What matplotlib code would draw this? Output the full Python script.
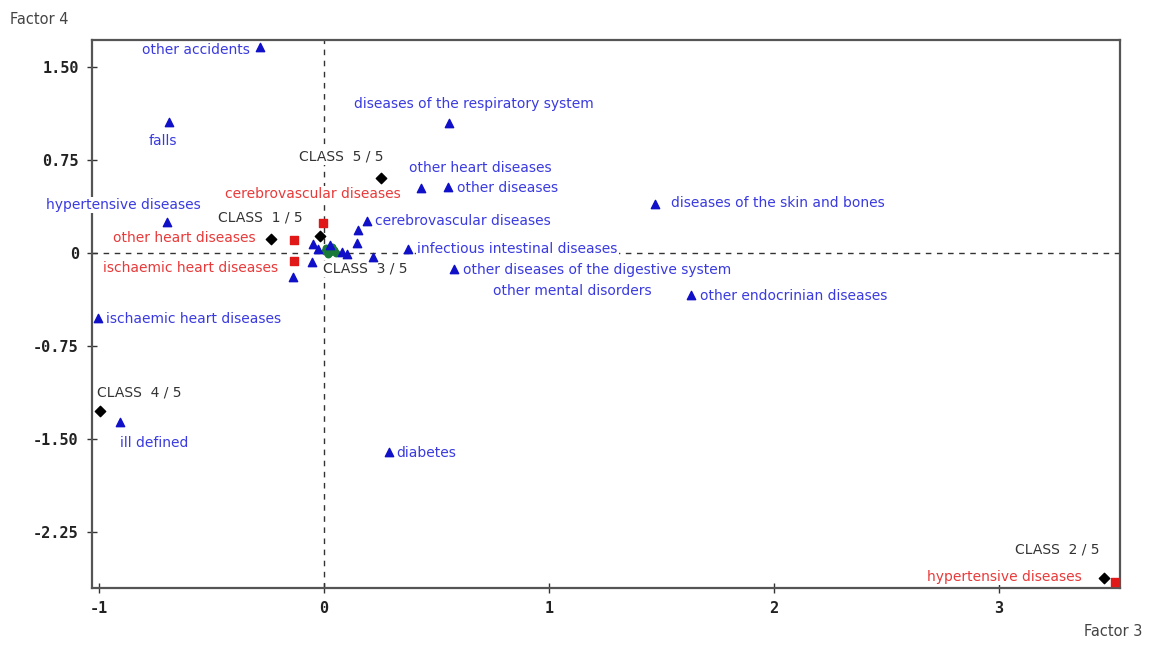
import matplotlib
matplotlib.use("Agg")
import matplotlib.pyplot as plt

# supplementary variables (blue triangles) with labels
blue_names = ['other accidents', 'falls', 'diseases of the respiratory system',
              'other heart diseases', 'other diseases', 'diseases of the skin and bones',
              'hypertensive diseases', 'cerebrovascular diseases',
              'infectious intestinal diseases', 'other diseases of the digestive system',
              'other mental disorders', 'other endocrinian diseases',
              'ischaemic heart diseases', 'ill defined', 'diabetes']
blue_x = [-0.284, -0.689, 0.556, 0.431, 0.551, 1.471, -0.698, 0.191,
          0.373, 0.578, 0.218, 1.631, -1.004, -0.907, 0.289]
blue_y = [1.661, 1.056, 1.048, 0.524, 0.532, 0.395, 0.250, 0.258,
          0.032, -0.129, -0.032, -0.339, -0.524, -1.363, -1.605]

# unlabeled blue triangles in the central cluster
cluster_x = [0.151, 0.147, -0.049, -0.027, 0.080, 0.102, -0.053, -0.138, 0.027]
cluster_y = [0.185, 0.081, 0.073, 0.032, 0.008, -0.008, -0.073, -0.194, 0.065]

# active categories (red squares)
red_names = ['cerebrovascular diseases', 'other heart diseases',
             'ischaemic heart diseases', 'hypertensive diseases']
red_x = [-0.004, -0.133, -0.133, 3.516]
red_y = [0.242, 0.105, -0.065, -2.653]

# class centres (black diamonds)
class_names = ['CLASS  1 / 5', 'CLASS  2 / 5', 'CLASS  3 / 5', 'CLASS  4 / 5', 'CLASS  5 / 5']
class_x = [-0.236, 3.467, -0.018, -0.996, 0.253]
class_y = [0.113, -2.621, 0.137, -1.274, 0.605]

# individuals (green dots)
green_x = [0.009, 0.027, 0.044, 0.018, 0.036, 0.053, 0.004]
green_y = [0.040, 0.008, 0.024, -0.008, 0.048, 0.000, 0.016]

xticks = [-1, 0, 1, 2, 3]
yticks = [1.50, 0.75, 0, -0.75, -1.50, -2.25]
ytick_labels = ['1.50', '0.75', '0', '-0.75', '-1.50', '-2.25']

# label offsets in pixels (dx, dy-up, ha)
blue_off = [(-10, -3, 'right'), (-6, -19, 'center'), (25, 19, 'center'),
            (59, 20, 'center'), (9, -1, 'left'), (16, 1, 'left'),
            (-44, 17, 'center'), (8, 0, 'left'), (9, 0, 'left'), (9, -1, 'left'),
            (199, -34, 'center'), (9, -1, 'left'), (8, -1, 'left'),
            (34, -21, 'center'), (7, -1, 'left')]
red_off = [(-10, 29, 'center'), (-38, 2, 'right'), (-16, -7, 'right'), (-33, 5, 'right')]
class_off = [(-11, 21, 'center'), (-47, 28, 'center'), (3, -33, 'left'),
             (-3, 18, 'left'), (-40, 21, 'center')]

fig = plt.figure(figsize=(11.5, 6.46), dpi=100)
ax = fig.add_axes([0.080, 0.090, 0.894, 0.848])
ax.set_xlim(-1.031, 3.538)
ax.set_ylim(-2.702, 1.718)

ax.axhline(0, color='#333333', ls=(0, (4, 4)), lw=1, zorder=1)
ax.axvline(0, color='#333333', ls=(0, (4, 4)), lw=1, zorder=1)

ax.scatter(green_x, green_y, marker='o', s=22, color='#1a7a3a', zorder=5)
ax.scatter(cluster_x, cluster_y, marker='^', s=36, color='#1010c8', zorder=6)
ax.scatter(blue_x, blue_y, marker='^', s=36, color='#1010c8', zorder=6)
ax.scatter(red_x, red_y, marker='s', s=28, color='#e01818', zorder=6)
ax.scatter(class_x, class_y, marker='D', s=28, color='black', zorder=7)

box = dict(facecolor='white', edgecolor='none', pad=1)
for name, x, y, (dx, dy, ha) in zip(blue_names, blue_x, blue_y, blue_off):
    ax.annotate(name, (x, y), xytext=(dx, dy), textcoords='offset pixels',
                ha=ha, va='center', fontsize=10, color='#3a3ae0',
                bbox=box, zorder=4, annotation_clip=False)
for name, x, y, (dx, dy, ha) in zip(red_names, red_x, red_y, red_off):
    ax.annotate(name, (x, y), xytext=(dx, dy), textcoords='offset pixels',
                ha=ha, va='center', fontsize=10, color='#e83a3a',
                bbox=box, zorder=4, annotation_clip=False)
for name, x, y, (dx, dy, ha) in zip(class_names, class_x, class_y, class_off):
    ax.annotate(name, (x, y), xytext=(dx, dy), textcoords='offset pixels',
                ha=ha, va='center', fontsize=10, color='#333333',
                bbox=box, zorder=4, annotation_clip=False)

for s in ax.spines.values():
    s.set_color('#555555')
    s.set_linewidth(1.6)
    s.set_zorder(2)

ax.set_xticks(xticks)
ax.set_xticklabels([str(t) for t in xticks])
ax.set_yticks(yticks)
ax.set_yticklabels(ytick_labels)
ax.tick_params(direction='inout', length=7, width=1, color='#333333', pad=6)
for lab in ax.get_xticklabels() + ax.get_yticklabels():
    lab.set_fontfamily('DejaVu Sans Mono')
    lab.set_fontweight('bold')
    lab.set_fontsize(11)
    lab.set_color('#222222')

fig.text(10 / 1150, 1 - 20 / 646, 'Factor 4', ha='left', va='center', fontsize=10.5, color='#444444')
fig.text(1142 / 1150, 1 - 632 / 646, 'Factor 3', ha='right', va='center', fontsize=10.5, color='#444444')

fig.savefig('out.png', dpi=100)
